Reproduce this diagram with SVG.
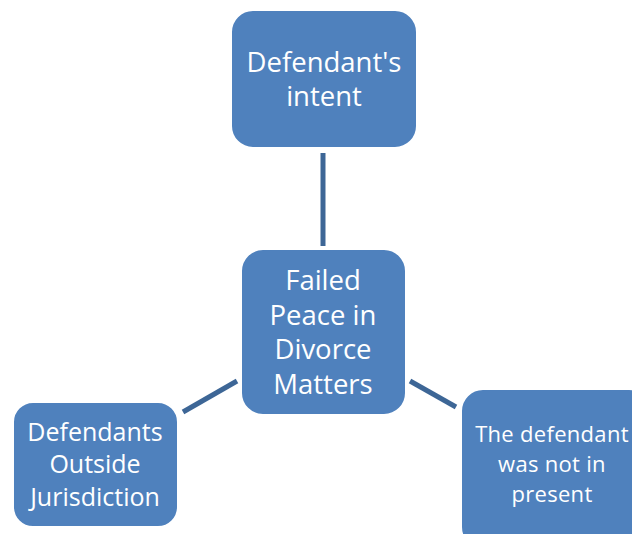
<svg xmlns="http://www.w3.org/2000/svg" width="632" height="534" viewBox="0 0 632 534">
<style>
.box{fill:#4F81BD;stroke:#FFFFFF;stroke-width:2}
.t{font-family:"Open Sans","Liberation Sans",sans-serif;fill:#FFFFFF;text-anchor:middle}
.c{stroke:#3D6696;stroke-width:5;fill:none}
</style>
<rect width="632" height="534" fill="#FFFFFF"/>
<g id="connectors">
<line class="c" x1="323" y1="153" x2="323" y2="246"/>
<line class="c" x1="183" y1="412" x2="237" y2="381"/>
<line class="c" x1="410" y1="381" x2="456" y2="407"/>
</g>
<g id="top">
<rect class="box" x="231" y="10" width="186" height="138" rx="22"/>
<text class="t" font-size="27.5"><tspan x="324" y="72">Defendant's</tspan><tspan x="324" y="106">intent</tspan></text>
</g>
<g id="center">
<rect class="box" x="241" y="249" width="165" height="166" rx="22"/>
<text class="t" font-size="27.5"><tspan x="323" y="290">Failed</tspan><tspan x="323" y="325">Peace in</tspan><tspan x="323" y="359">Divorce</tspan><tspan x="323" y="394">Matters</tspan></text>
</g>
<g id="left">
<rect class="box" x="13" y="402" width="165" height="125" rx="20"/>
<text class="t" font-size="25"><tspan x="95" y="441">Defendants</tspan><tspan x="95" y="473">Outside</tspan><tspan x="95" y="506">Jurisdiction</tspan></text>
</g>
<g id="right">
<rect class="box" x="461" y="389" width="190" height="160" rx="22"/>
<text class="t" font-size="22" letter-spacing="0.3"><tspan x="552" y="442">The defendant</tspan><tspan x="552" y="472">was not in</tspan><tspan x="552" y="502">present</tspan></text>
</g>
</svg>
